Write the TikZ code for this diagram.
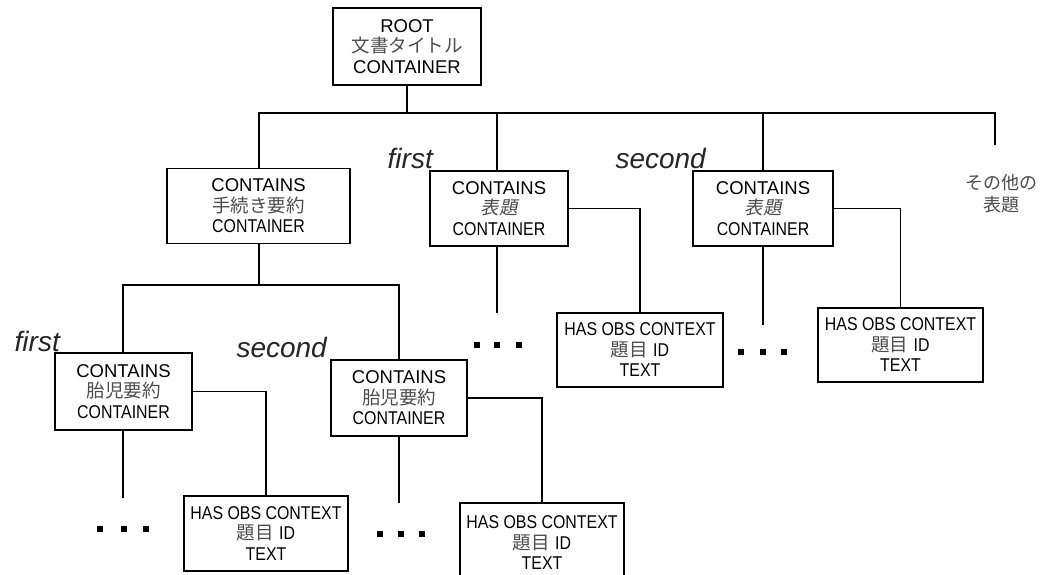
\documentclass[tikz,border=0pt]{standalone}
\usepackage{fontspec}
\setmainfont{Liberation Sans}
\newfontfamily\jp{Noto Sans CJK JP}
\newfontfamily\jpit[FakeSlant=0.2]{Noto Sans CJK JP}
\newcommand\cond[1]{\scalebox{0.86}[1]{#1}}
\newcommand\jt[1]{{\jp\color{black!70}#1}}
\newcommand\jti[1]{{\jpit\color{black!70}#1}}
\tikzset{
 box/.style={draw, line width=1.6pt, inner sep=0pt, align=center, fill=white,
   font=\fontsize{18.5}{20.5}\selectfont},
 conn/.style={line width=1.6pt},
 lbl/.style={font=\fontsize{28}{28}\selectfont\itshape, anchor=base east, inner sep=0pt, text=black!85},
 dotsq/.style={fill=black, minimum size=5.5pt, inner sep=0pt},
 note/.style={align=center, inner sep=0pt, font=\fontsize{18}{22}\selectfont}
}
\begin{document}
\begin{tikzpicture}[x=1pt,y=-1pt]
\clip (0,0) rectangle (1046,574);
\fill[white] (0,0) rectangle (1046,574);

% boxes
\node[box, minimum width=148pt, minimum height=77pt] (root) at (407,46.5)
  {ROOT\\\jt{文書タイトル}\\CONTAINER};
\node[box, minimum width=183pt, minimum height=75pt] (A) at (258.5,206)
  {CONTAINS\\\jt{手続き要約}\\\cond{CONTAINER}};
\node[box, minimum width=138pt, minimum height=75pt] (B) at (499,208.5)
  {CONTAINS\\\jti{表題}\\\cond{CONTAINER}};
\node[box, minimum width=140pt, minimum height=75pt] (C) at (763,208.5)
  {CONTAINS\\\jti{表題}\\\cond{CONTAINER}};
\node[box, minimum width=166pt, minimum height=74pt] (D) at (640,350)
  {\cond{HAS OBS CONTEXT}\\\jt{題目} \cond{ID}\\\cond{TEXT}};
\node[box, minimum width=165pt, minimum height=74pt] (F) at (900.5,345)
  {\cond{HAS OBS CONTEXT}\\\jt{題目} \cond{ID}\\\cond{TEXT}};
\node[box, minimum width=137pt, minimum height=77pt] (E) at (123.5,391.5)
  {CONTAINS\\\jt{胎児要約}\\\cond{CONTAINER}};
\node[box, minimum width=136pt, minimum height=76pt] (G) at (399,398)
  {CONTAINS\\\jt{胎児要約}\\\cond{CONTAINER}};
\node[box, minimum width=164pt, minimum height=75pt] (H) at (266,533.5)
  {\cond{HAS OBS CONTEXT}\\\jt{題目} \cond{ID}\\\cond{TEXT}};
\node[box, minimum width=164pt, minimum height=80pt, anchor=north] (I) at (542,502)
  {\cond{HAS OBS CONTEXT}\\\jt{題目} \cond{ID}\\\cond{TEXT}};

% other headings note
\node[note] (other) at (1001,194) {\jt{その他の}\\\jt{表題}};

% labels
\node[lbl] (lfB) at (433,168) {first};
\node[lbl] (lsC) at (706,168) {second};
\node[lbl] (lfE) at (60,351) {first};
\node[lbl] (lsG) at (327,357) {second};

% coordinates
\coordinate (bA) at (259,113);
\coordinate (bB) at (497,113);
\coordinate (bC) at (763,113);
\coordinate (bO) at (995,113);
\coordinate (oEnd) at (995,145);
\coordinate (eB) at (497,313);
\coordinate (eC) at (763,325);
\coordinate (aJ) at (259,285);
\coordinate (aL) at (123,285);
\coordinate (aR) at (399,285);
\coordinate (eE) at (123,498);
\coordinate (eG) at (399,503);

% connectors
\draw[conn] (root.south) -- (root.south |- bA);
\draw[conn] (A.north -| bA) -- (bA) -- (bO) -- (oEnd);
\draw[conn] (B.north -| bB) -- (bB);
\draw[conn] (C.north) -- (bC);
\draw[conn] (B.south -| bB) -- (eB);
\draw[conn] (B.east) -| (D.north);
\draw[conn] (C.south) -- (eC);
\draw[conn] (C.east) -| (F.north);
\draw[conn] (A.south -| aJ) -- (aJ);
\draw[conn] (E.north -| aL) -- (aL) -- (aR) -- (G.north -| aR);
\draw[conn] (E.south -| aL) -- (eE);
\draw[conn] (E.east) -| (H.north);
\draw[conn] (G.south) -- (eG);
\draw[conn] (G.east) -| (I.north);

% ellipsis dots
\node[dotsq] (dB1) at (477,345) {};
\node[dotsq] (dB2) at (497,345) {};
\node[dotsq] (dB3) at (519,345) {};
\node[dotsq] (dC1) at (741,352) {};
\node[dotsq] (dC2) at (763,352) {};
\node[dotsq] (dC3) at (784,352) {};
\node[dotsq] (dE1) at (100,529) {};
\node[dotsq] (dE2) at (124,529) {};
\node[dotsq] (dE3) at (146,529) {};
\node[dotsq] (dG1) at (380,534) {};
\node[dotsq] (dG2) at (401,534) {};
\node[dotsq] (dG3) at (422,534) {};
\end{tikzpicture}
\end{document}
